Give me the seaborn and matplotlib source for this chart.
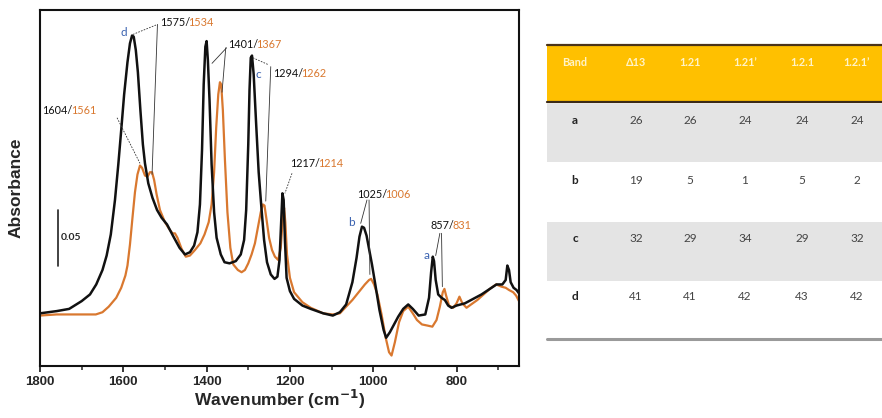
import matplotlib
matplotlib.use("Agg")
import matplotlib.pyplot as plt
from matplotlib.patches import Rectangle
import numpy as np
import pandas as pd
import seaborn as sns

# ---------------- spectra (wavenumber in cm-1, absorbance) ----------------
wn_black = [1800, 1760, 1730, 1700, 1680, 1665, 1650, 1640, 1630, 1620, 1612, 1605,
            1598, 1590, 1584, 1579, 1575, 1570, 1565, 1559, 1553, 1548, 1540, 1530,
            1519, 1508, 1495, 1481, 1465, 1452, 1440, 1430, 1422, 1416, 1411, 1407,
            1403, 1400, 1397, 1393, 1388, 1382, 1376, 1366, 1357, 1345, 1330, 1318,
            1310, 1305, 1300, 1297, 1294, 1291, 1287, 1281, 1275, 1268, 1262, 1255,
            1246, 1237, 1230, 1225, 1221, 1218, 1215, 1212, 1208, 1200, 1190, 1170,
            1150, 1120, 1097, 1080, 1065, 1050, 1040, 1033, 1027, 1022, 1016, 1010,
            1003, 995, 985, 975, 969, 960, 950, 940, 928, 916, 905, 891, 875, 866,
            861, 857, 854, 850, 844, 836, 828, 820, 812, 800, 780, 760, 740, 720,
            704, 690, 682, 678, 674, 670, 663, 656, 650]
abs_black = [0.051, 0.053, 0.055, 0.062, 0.068, 0.077, 0.090, 0.103, 0.122, 0.153, 0.185, 0.216,
             0.248, 0.277, 0.294, 0.301, 0.300, 0.288, 0.268, 0.234, 0.203, 0.186, 0.168, 0.155,
             0.144, 0.137, 0.131, 0.121, 0.110, 0.104, 0.106, 0.112, 0.124, 0.149, 0.198, 0.257,
             0.291, 0.296, 0.279, 0.243, 0.185, 0.142, 0.119, 0.104, 0.097, 0.096, 0.098, 0.104,
             0.117, 0.144, 0.203, 0.252, 0.281, 0.283, 0.266, 0.221, 0.178, 0.144, 0.117, 0.097,
             0.086, 0.082, 0.084, 0.099, 0.133, 0.159, 0.153, 0.117, 0.083, 0.071, 0.064, 0.058,
             0.055, 0.051, 0.049, 0.052, 0.059, 0.079, 0.101, 0.120, 0.129, 0.128, 0.121, 0.109,
             0.095, 0.077, 0.054, 0.036, 0.029, 0.034, 0.041, 0.048, 0.055, 0.059, 0.055, 0.049,
             0.050, 0.065, 0.088, 0.102, 0.098, 0.081, 0.068, 0.065, 0.063, 0.058, 0.056, 0.058,
             0.060, 0.064, 0.068, 0.073, 0.077, 0.077, 0.081, 0.094, 0.090, 0.079, 0.074, 0.072,
             0.069]

wn_orange = [1800, 1760, 1720, 1690, 1666, 1650, 1635, 1617, 1605, 1595, 1590, 1584,
             1578, 1572, 1566, 1560, 1555, 1548, 1542, 1536, 1531, 1526, 1520, 1512,
             1500, 1490, 1482, 1476, 1470, 1460, 1450, 1440, 1428, 1415, 1405, 1395,
             1388, 1382, 1377, 1372, 1368, 1365, 1361, 1356, 1350, 1343, 1336, 1325,
             1316, 1308, 1300, 1292, 1284, 1277, 1270, 1265, 1261, 1256, 1250, 1243,
             1236, 1228, 1222, 1217, 1214, 1211, 1207, 1200, 1190, 1170, 1150, 1120,
             1097, 1080, 1065, 1050, 1035, 1020, 1010, 1005, 998, 990, 980, 970, 962,
             956, 948, 938, 928, 916, 905, 895, 883, 870, 858, 848, 840, 833, 829,
             825, 818, 808, 800, 793, 786, 776, 765, 750, 735, 720, 705, 692, 682,
             674, 664, 657, 650]
abs_orange = [0.049, 0.050, 0.050, 0.050, 0.050, 0.052, 0.057, 0.065, 0.074, 0.085, 0.094, 0.113,
              0.137, 0.160, 0.176, 0.184, 0.182, 0.175, 0.174, 0.178, 0.178, 0.171, 0.158, 0.144,
              0.133, 0.127, 0.123, 0.123, 0.119, 0.109, 0.102, 0.103, 0.108, 0.114, 0.122, 0.133,
              0.149, 0.178, 0.218, 0.248, 0.259, 0.257, 0.234, 0.189, 0.142, 0.110, 0.095, 0.090,
              0.088, 0.090, 0.096, 0.104, 0.114, 0.128, 0.142, 0.149, 0.148, 0.135, 0.119, 0.108,
              0.102, 0.099, 0.110, 0.137, 0.146, 0.133, 0.104, 0.083, 0.070, 0.061, 0.056, 0.051,
              0.050, 0.051, 0.057, 0.063, 0.070, 0.077, 0.081, 0.082, 0.077, 0.068, 0.050, 0.029, 0.016,
              0.013, 0.025, 0.043, 0.053, 0.057, 0.051, 0.045, 0.041, 0.040, 0.039, 0.045, 0.057, 0.070, 0.073,
              0.067, 0.058, 0.056, 0.060, 0.066, 0.060, 0.056, 0.059, 0.063, 0.068, 0.073, 0.077, 0.075, 0.074,
              0.072, 0.070, 0.067, 0.062]

# band assignments: black / orange positions
band_black = ["1575", "1604", "1401", "1294", "1217", "1025", "857"]
band_orange = ["1534", "1561", "1367", "1262", "1214", "1006", "831"]
band_letters = ["d", "c", "b", "a"]

# ---------------- table ----------------
table_header = ["Band", "\u039413", "1.21", "1.21\u2019", "1.2.1", "1.2.1\u2019"]
row_labels = ["a", "b", "c", "d"]
col_A13 = [26, 19, 32, 41]
col_121 = [26, 5, 29, 41]
col_121p = [24, 1, 34, 42]
col_1_2_1 = [24, 5, 29, 43]
col_1_2_1p = [24, 2, 32, 42]

BLACK = "#111111"
ORANGE = "#D9782F"
BLUE = "#3A62B0"

sns.set_style("white")
plt.rcParams["font.family"] = ["Liberation Sans", "DejaVu Sans"]

fig = plt.figure(figsize=(8.82, 4.18), dpi=100)
ax = fig.add_axes([40 / 882, 52 / 418, 479 / 882, 356 / 418])

df = pd.concat([
    pd.DataFrame({"wn": wn_black, "A": abs_black, "sample": "s1"}),
    pd.DataFrame({"wn": wn_orange, "A": abs_orange, "sample": "s2"}),
])
sns.lineplot(data=df[df["sample"] == "s2"], x="wn", y="A", color=ORANGE, lw=1.6,
             sort=False, estimator=None, ax=ax, legend=False)
sns.lineplot(data=df[df["sample"] == "s1"], x="wn", y="A", color=BLACK, lw=1.8,
             sort=False, estimator=None, ax=ax, legend=False)

ax.set_xlim(1800, 650)
ax.set_ylim(0.0036, 0.324)
ax.set_xticks([1800, 1600, 1400, 1200, 1000, 800])
ax.set_xticks([1700, 1500, 1300, 1100, 900, 700], minor=True)
ax.set_yticks([])
ax.tick_params(axis="x", which="major", direction="out", length=4, width=1.3,
               labelsize=9.5, pad=3, bottom=True)
ax.tick_params(axis="x", which="minor", direction="out", length=3, width=1.1, bottom=True)
for lab in ax.get_xticklabels():
    lab.set_fontweight("bold")
for sp in ax.spines.values():
    sp.set_linewidth(1.5)
    sp.set_color("#111111")
ax.set_xlabel("Wavenumber (cm$^{\\mathbf{-1}}$)", fontsize=12.5, fontweight="bold", labelpad=0)
ax.set_ylabel("Absorbance", fontsize=12.5, fontweight="bold", labelpad=12)

# scale bar
ax.plot([1757, 1757], [0.094, 0.144], color="#222222", lw=1.2)
ax.text(1750, 0.119, "0.05", fontsize=7.5, fontweight="bold", va="center", ha="left",
        family=["Lato", "DejaVu Sans"])

LBL = dict(fontsize=7.8, family=["Lato", "DejaVu Sans"], va="center")


def two_tone(x, y, k):
    t1 = ax.text(x, y, band_black[k] + "/", color=BLACK, ha="left", **LBL)
    ax.annotate(band_orange[k], xy=(1, 0.5), xycoords=t1, xytext=(-1.2, 0),
                textcoords="offset points", color=ORANGE, ha="left", **LBL)


two_tone(1512, 0.313, 0)
two_tone(1795, 0.234, 1)
two_tone(1349, 0.293, 2)
two_tone(1241, 0.267, 3)
two_tone(1200, 0.186, 4)
two_tone(1039, 0.158, 5)
two_tone(862, 0.130, 6)

letter_kw = dict(color=BLUE, fontsize=8.5, family=["Lato", "DejaVu Sans"],
                 va="center", ha="center")
ax.text(1598, 0.304, band_letters[0], **letter_kw)
ax.text(1276, 0.266, band_letters[1], **letter_kw)
ax.text(1053, 0.133, band_letters[2], **letter_kw)
ax.text(872, 0.103, band_letters[3], **letter_kw)

lead = dict(color="#333333", lw=0.6)
dash = dict(color="#333333", lw=0.6, ls=(0, (2, 1.5)))
ax.plot([1577, 1518], [0.302, 0.311], **dash)
ax.plot([1518, 1531], [0.311, 0.176], **lead)
ax.plot([1615, 1560], [0.227, 0.186], **dash)
ax.plot([1352, 1387], [0.290, 0.276], **lead)
ax.plot([1354, 1363], [0.290, 0.250], **lead)
ax.plot([1289, 1253], [0.281, 0.275], **dash)
ax.plot([1246, 1258], [0.273, 0.152], **lead)
ax.plot([1195, 1212], [0.177, 0.159], **dash)
ax.plot([1015, 1030], [0.153, 0.132], **lead)
ax.plot([1010, 1008], [0.153, 0.086], **lead)
ax.plot([840, 850], [0.123, 0.103], **lead)
ax.plot([836, 834], [0.123, 0.075], **lead)

# ---------------- band table ----------------
tx = fig.add_axes([0, 0, 1, 1], facecolor="none")
tx.set_xlim(0, 882)
tx.set_ylim(418, 0)
tx.axis("off")

left, right = 547, 882
tx.add_patch(Rectangle((left, 45), right - left, 57, color="#FFC000", lw=0))
tx.plot([left, right], [45, 45], color="#4A3319", lw=1.6)
tx.plot([left, right], [102, 102], color="#3B2A17", lw=1.6)
tx.add_patch(Rectangle((left, 104), right - left, 58, color="#E4E4E4", lw=0))
tx.add_patch(Rectangle((left, 222), right - left, 59, color="#E4E4E4", lw=0))
tx.plot([left, right], [339, 339], color="#9A9A9A", lw=2.2)

col_x = [575, 636, 690, 745, 802, 857]
for x, h in zip(col_x, table_header):
    tx.text(x, 62, h, color="#FFF3C8", fontsize=7.8, fontweight="bold", ha="center",
            va="center", family=["Lato", "DejaVu Sans"])

row_y = [121, 180, 238, 297]
columns = [col_A13, col_121, col_121p, col_1_2_1, col_1_2_1p]
for i, (y, lab) in enumerate(zip(row_y, row_labels)):
    tx.text(col_x[0], y, lab, color="#222222", fontsize=8.5, fontweight="bold",
            ha="center", va="center", family=["Lato", "DejaVu Sans"])
    for x, col in zip(col_x[1:], columns):
        tx.text(x, y, str(col[i]), color="#444444", fontsize=8.5, ha="center",
                va="center", family=["Lato", "DejaVu Sans"])

fig.savefig("out.png", dpi=100)
